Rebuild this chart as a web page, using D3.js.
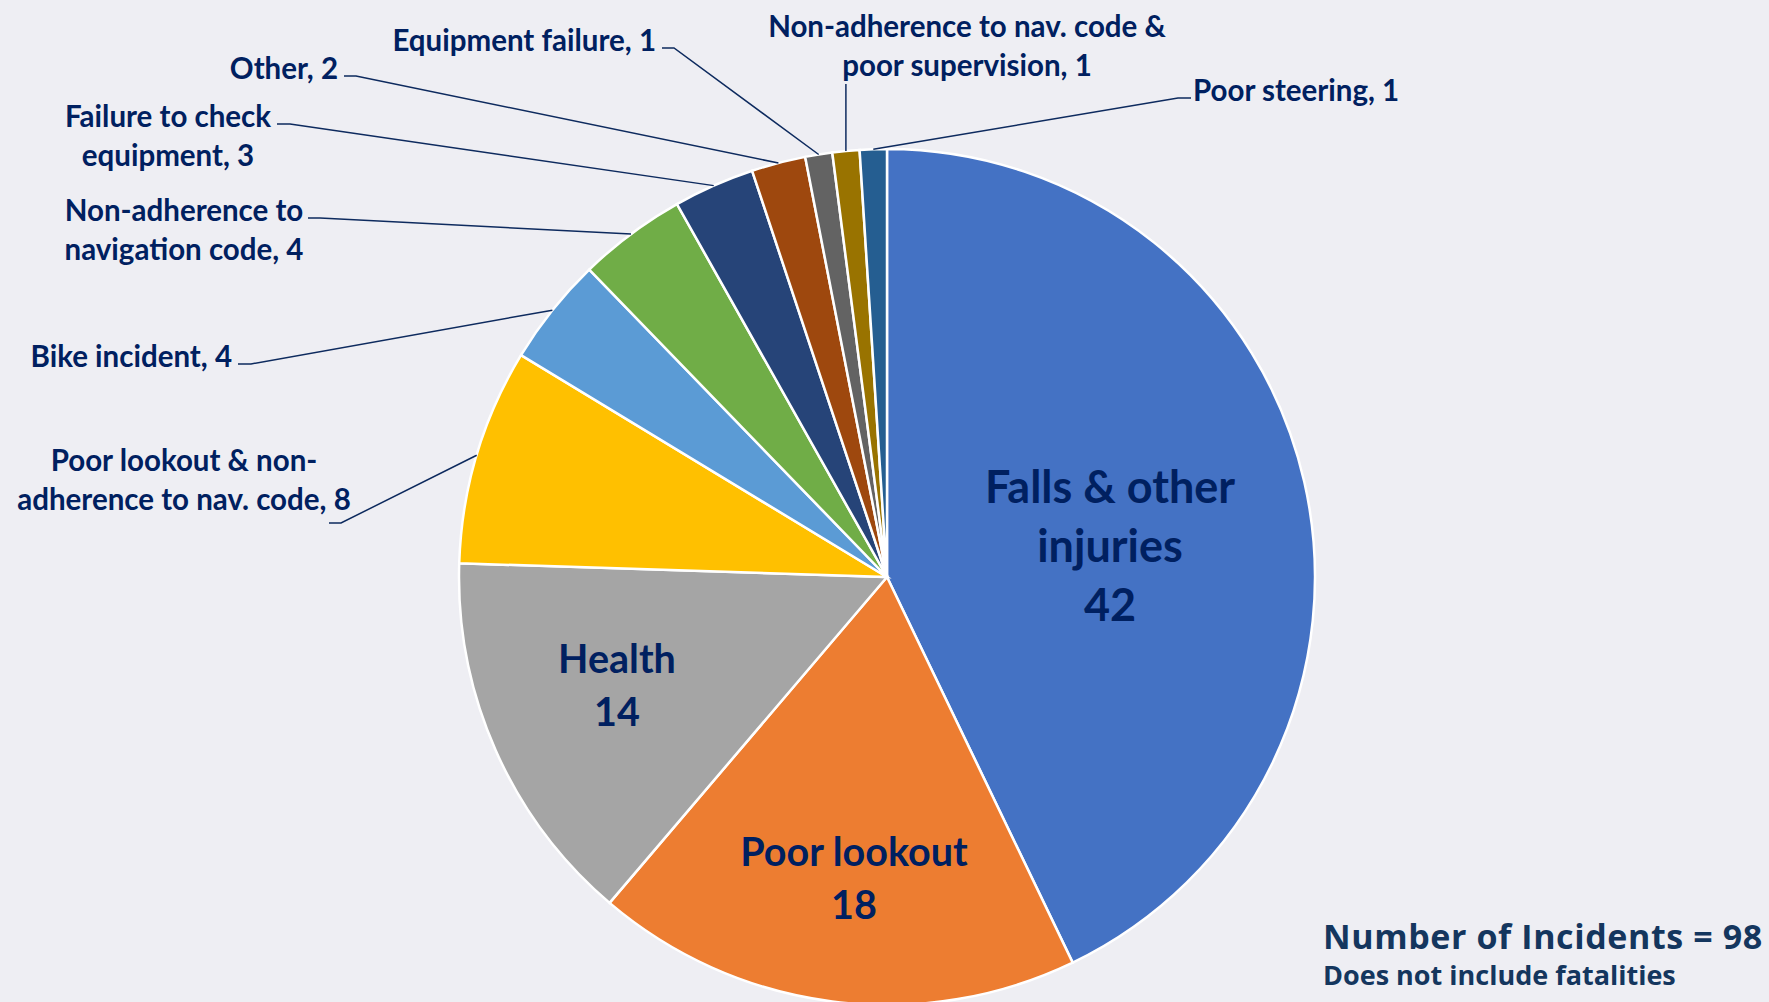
<!DOCTYPE html>
<html lang="en">
<head>
  <meta charset="utf-8">
  <title>Incidents by cause</title>
  <script src="https://d3js.org/d3.v7.min.js"></script>
  <style>
    html, body { margin: 0; padding: 0; background: #eeeef3; }
    svg { display: block; }
    .slice path { stroke: #ffffff; stroke-width: 2.5; }
    .leader { fill: none; stroke: #0d2a5e; stroke-width: 1.5; }
    text.outer { font-family: Lato, "Open Sans", sans-serif; font-weight: 700; font-size: 29.5px; fill: #002060; }
    text.inner { font-family: Lato, "Open Sans", sans-serif; font-weight: 700; font-size: 39.5px; fill: #002060; text-anchor: middle; }
    #total { font-family: "Open Sans", Lato, sans-serif; font-weight: 700; fill: #14365e; }
  </style>
</head>
<body>
<script>
  // data
  const categories = [
    "Falls & other injuries",
    "Poor lookout",
    "Health",
    "Poor lookout & non-adherence to nav. code",
    "Bike incident",
    "Non-adherence to navigation code",
    "Failure to check equipment",
    "Other",
    "Equipment failure",
    "Non-adherence to nav. code & poor supervision",
    "Poor steering"
  ];
  const values = [42, 18, 14, 8, 4, 4, 3, 2, 1, 1, 1];
  const palette = ["#4472c4", "#ed7d31", "#a5a5a5", "#ffc000", "#5b9bd5", "#70ad47",
                   "#264478", "#9e480e", "#636363", "#997300", "#255e91"];

  const width = 1769, height = 1002;
  const cx = 887, cy = 577, radius = 428;

  // label placement (text split, anchor, baselines, leader elbow)
  const insideLabels = {
    "Falls & other injuries": { x: 1110, y: 503, breakAfter: "other", size: 45, gap: 59 },
    "Poor lookout": { x: 854, y: 866, gap: 53 },
    "Health": { x: 617, y: 673, gap: 53 }
  };
  const outsideLabels = {
    "Poor lookout & non-adherence to nav. code": { x: 184, y: 471, anchor: "middle", breakAfter: "non-", stub: [329, 341, 523] },
    "Bike incident": { x: 232, y: 367, anchor: "end", stub: [238, 251, 364] },
    "Non-adherence to navigation code": { x: 184, y: 221, anchor: "middle", breakAfter: "to", stub: [308, 320, 218] },
    "Failure to check equipment": { x: 168, y: 127, anchor: "middle", breakAfter: "check", stub: [277, 290, 124] },
    "Other": { x: 338, y: 79, anchor: "end", stub: [344, 356, 76] },
    "Equipment failure": { x: 656, y: 51, anchor: "end", stub: [662, 674, 48] },
    "Non-adherence to nav. code & poor supervision": { x: 967, y: 37, anchor: "middle", breakAfter: "&", vertical: 84 },
    "Poor steering": { x: 1193, y: 101, anchor: "start", stub: [1191, 1178, 98] }
  };
  const lineGap = 39;

  function splitText(str, breakAfter) {
    if (!breakAfter) return [str];
    const i = str.indexOf(breakAfter) + breakAfter.length;
    return [str.slice(0, i), str.slice(i).trim()];
  }

  const color = d3.scaleOrdinal(categories, palette);

  const svg = d3.select("body").append("svg")
    .attr("width", width).attr("height", height);
  svg.append("rect").attr("width", width).attr("height", height).attr("fill", "#eeeef3");

  const pieData = d3.pie().sort(null).value(d => d.value)
    (categories.map((c, i) => ({ name: c, value: values[i] })));

  const arc = d3.arc().innerRadius(0).outerRadius(radius);
  const edgeArc = d3.arc().innerRadius(radius).outerRadius(radius);

  const g = svg.append("g").attr("transform", `translate(${cx},${cy})`);

  g.selectAll("g.slice").data(pieData).join("g").classed("slice", true)
    .append("path")
    .attr("d", arc)
    .attr("fill", d => color(d.data.name));

  // leader lines
  const lines = svg.append("g");
  pieData.filter(d => outsideLabels[d.data.name]).forEach(d => {
    const L = outsideLabels[d.data.name];
    const [ex, ey] = edgeArc.centroid(d);
    const px = cx + ex, py = cy + ey;
    let path;
    if (L.vertical !== undefined) {
      path = `M${px},${py}L${px},${L.vertical}`;
    } else {
      path = `M${px},${py}L${L.stub[1]},${L.stub[2]}L${L.stub[0]},${L.stub[2]}`;
    }
    lines.append("path").attr("class", "leader").attr("d", path);
  });

  // outside labels
  pieData.filter(d => outsideLabels[d.data.name]).forEach(d => {
    const L = outsideLabels[d.data.name];
    const parts = splitText(`${d.data.name}, ${d.data.value}`, L.breakAfter);
    const t = svg.append("text").attr("class", "outer")
      .attr("text-anchor", L.anchor);
    parts.forEach((p, i) => {
      t.append("tspan").attr("x", L.x).attr("y", L.y + i * lineGap).text(p);
    });
  });

  // inside labels
  pieData.filter(d => insideLabels[d.data.name]).forEach(d => {
    const L = insideLabels[d.data.name];
    const parts = splitText(d.data.name, L.breakAfter).concat([String(d.data.value)]);
    const t = svg.append("text").attr("class", "inner");
    if (L.size) t.style("font-size", L.size + "px");
    parts.forEach((p, i) => {
      t.append("tspan").attr("x", L.x).attr("y", L.y + i * L.gap).text(p);
    });
  });

  // total note
  const total = d3.sum(values);
  const note = svg.append("text").attr("id", "total");
  note.append("tspan").attr("x", 1323).attr("y", 949)
    .style("font-size", "34px").style("letter-spacing", "0.6px")
    .text(`Number of Incidents = ${total}`);
  note.append("tspan").attr("x", 1323).attr("y", 985).style("font-size", "27px")
    .style("letter-spacing", "0px")
    .text("Does not include fatalities");
</script>
</body>
</html>
